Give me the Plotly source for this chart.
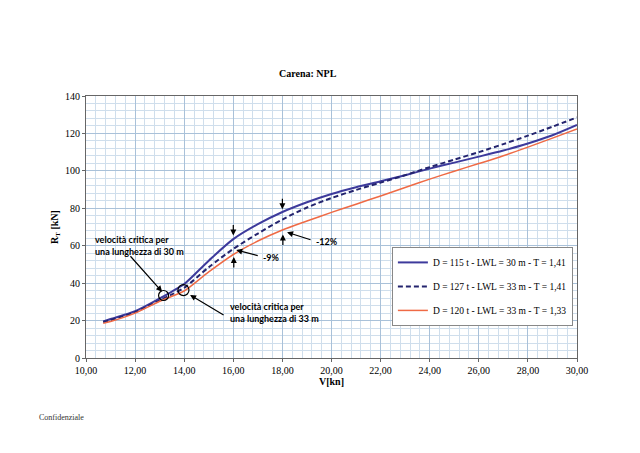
import plotly.graph_objects as go

# velocita' [kn] e resistenza totale [kN]
v = [10.7, 11, 12, 13, 13.5, 14, 15, 16, 17, 18, 19, 20, 21, 22, 23, 24, 25, 26, 27, 28, 29, 30]
rt_115 = [19.5, 20.8, 25.0, 31.8, 35.5, 39.5, 52.0, 63.5, 71.5, 78.0, 83.2, 87.6, 91.2, 94.4, 97.7, 101.2, 104.4, 107.6, 110.9, 114.6, 119.0, 124.5]
rt_127 = [19.2, 20.3, 24.5, 30.8, 34.0, 37.5, 48.5, 58.3, 66.5, 74.0, 80.4, 85.5, 89.8, 93.7, 97.7, 102.0, 106.0, 110.0, 114.3, 118.8, 123.6, 128.6]
rt_120 = [18.5, 19.5, 24.0, 30.3, 33.0, 35.8, 46.0, 55.3, 62.5, 68.4, 73.2, 77.8, 82.2, 86.6, 91.1, 95.6, 99.8, 103.9, 108.1, 112.7, 117.5, 122.4]

names = ["D = 115 t - LWL = 30 m - T = 1,41",
         "D = 127 t - LWL = 33 m - T = 1,41",
         "D = 120 t - LWL = 33 m - T = 1,33"]

serif = "Times New Roman, Liberation Serif, serif"
sans = "Lato"

fig = go.Figure()
fig.add_trace(go.Scatter(x=v, y=rt_115, mode='lines', name=names[0], legendgroup='a',
                         line=dict(color='#3d3a9c', width=2, shape='spline', smoothing=0.8)))
fig.add_trace(go.Scatter(x=v, y=rt_127, mode='lines', name=names[1], legendgroup='b',
                         line=dict(color='#24246e', width=2, dash='5px,3px', shape='spline', smoothing=0.8)))
fig.add_trace(go.Scatter(x=v, y=rt_120, mode='lines', name=names[2], legendgroup='c',
                         line=dict(color='#ef6a45', width=1.5, shape='spline', smoothing=0.8)))

# frecce e cerchi
arr = dict(showarrow=True, arrowhead=2, arrowsize=1, arrowwidth=1.2, arrowcolor='black', text='')
fig.add_annotation(x=16, y=65.5, ax=0, ay=-12, **arr)
fig.add_annotation(x=18, y=79.5, ax=0, ay=-12, **arr)
fig.add_annotation(x=16.02, y=54.0, ax=0, ay=12, **arr)
fig.add_annotation(x=18.02, y=66.0, ax=0, ay=12, **arr)
fig.add_annotation(x=16.12, y=57.7, ax=23, ay=6, **arr)
fig.add_annotation(x=18.19, y=67.2, ax=25, ay=8, **arr)
fig.add_annotation(x=13.1, y=35.4, ax=-33, ay=-37, **arr)
fig.add_annotation(x=14.24, y=33.7, ax=35, ay=21, **arr)

txt = dict(showarrow=False, xanchor='left', font=dict(family=sans, size=9, color='black'))
fig.add_annotation(x=17.12, y=53.5, text='<b>-9%</b>', **txt)
fig.add_annotation(x=19.3, y=62.0, text='<b>-12%</b>', **txt)
fig.add_annotation(x=10.3, y=60.0, text='<b>velocità critica per<br>una lunghezza di 30 m</b>', align='left', **txt)
fig.add_annotation(x=15.8, y=24.5, text='<b>velocità critica per<br>una lunghezza di 33 m</b>', align='left', **txt)

for cx, cy, r in [(13.16, 33.4, 5), (13.97, 36.3, 5.5)]:
    fig.add_shape(type='circle', xref='x', yref='y', xsizemode='pixel', ysizemode='pixel',
                  xanchor=cx, yanchor=cy, x0=-r, x1=r, y0=-r, y1=r,
                  line=dict(color='black', width=1.2))

fig.add_annotation(xref='paper', yref='paper', x=0.452, y=1.0, yshift=15, yanchor='bottom',
                   text='<b>Carena: NPL</b>', showarrow=False, font=dict(family=serif, size=10, color='black'))
fig.add_annotation(xref='paper', yref='paper', x=-0.1, y=-0.229, xanchor='left', yanchor='middle',
                   text='Confidenziale', showarrow=False, font=dict(family=serif, size=8, color='#333'))

fig.update_xaxes(range=[10, 30], dtick=2, tickformat='.2f', showline=True, linecolor='#666', mirror=True,
                 gridcolor='#a9c1d9', ticks='outside', ticklen=3, tickcolor='#666',
                 minor=dict(dtick=0.4, showgrid=True, gridcolor='#cfdeec'),
                 tickfont=dict(family=serif, size=10, color='black'),
                 title=dict(text='<b>V[kn]</b>', standoff=2, font=dict(family=serif, size=10, color='black')),
                 zeroline=False)
fig.update_yaxes(range=[0, 140], dtick=20, showline=True, linecolor='#666', mirror=True,
                 gridcolor='#a9c1d9', ticks='outside', ticklen=3, tickcolor='#666',
                 minor=dict(dtick=4, showgrid=True, gridcolor='#cfdeec'),
                 tickfont=dict(family=serif, size=10, color='black'),
                 title=dict(text='<b>R<sub>T</sub> [kN]</b>', standoff=4, font=dict(family=serif, size=10, color='black')),
                 zeroline=False)

fig.update_layout(width=640, height=453, margin=dict(l=78, r=71, t=88, b=103),
                  paper_bgcolor='white', plot_bgcolor='white', separators=',.',
                  legend=dict(x=0.623, y=0.424, xanchor='left', yanchor='top', bgcolor='white',
                              bordercolor='#888', borderwidth=1, tracegroupgap=5, traceorder='grouped',
                              font=dict(family=serif, size=9.5, color='black'), itemwidth=30),
                  showlegend=True)

fig.write_html("out.html")
